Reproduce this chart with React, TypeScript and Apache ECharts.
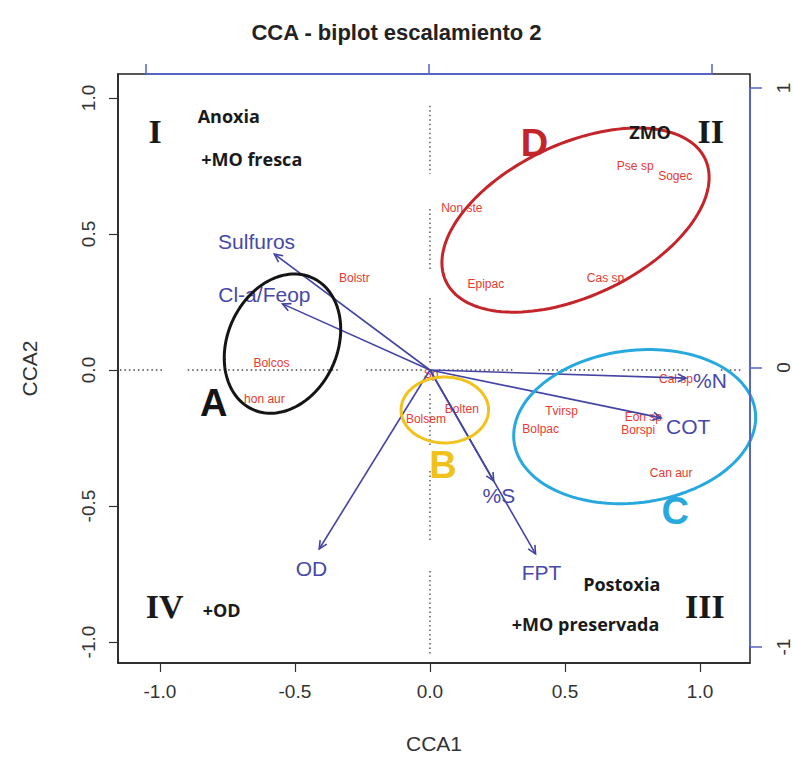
import React, { useEffect, useRef } from "react";
import * as echarts from "echarts";

// ---- axis ticks ----
const xTicks = [-1, -0.5, 0, 0.5, 1];
const yTicks = [-1, -0.5, 0, 0.5, 1];
const topTicks = [-1, 0, 1];
const rightTicks = [-1, 0, 1];

// ---- environmental vectors (biplot arrows) ----
const envNames = ["Sulfuros", "Cl-a/Feop", "%N", "COT", "%S", "FPT", "OD"];
const envTipX = [-0.576, -0.546, 0.948, 0.856, 0.236, 0.391, -0.41];
const envTipY = [0.426, 0.243, -0.03, -0.176, -0.408, -0.676, -0.658];
const envLabelX = [-0.642, -0.613, 1.037, 0.956, 0.255, 0.413, -0.439];
const envLabelY = [0.471, 0.276, -0.04, -0.206, -0.46, -0.746, -0.728];

// ---- species scores ----
const speciesNames = [
  "Bolstr", "Bolcos", "hon aur", "Non ste", "Pse sp", "Sogec", "Epipac", "Cas sp",
  "Bolten", "Bolsem", "Tvirsp", "Bolpac", "Eon sp", "Borspi", "Can aur", "Cal sp", "Sp",
];
const speciesX = [-0.28, -0.587, -0.613, 0.118, 0.76, 0.908, 0.207, 0.65,
  0.118, -0.015, 0.487, 0.41, 0.79, 0.771, 0.893, 0.911, 0.004];
const speciesY = [0.338, 0.026, -0.107, 0.596, 0.75, 0.713, 0.316, 0.338,
  -0.143, -0.18, -0.151, -0.217, -0.173, -0.221, -0.379, -0.033, -0.015];

// ---- groups (ellipses) ----
const groupNames = ["A", "B", "C", "D"];
const groupColors = ["#151515", "#f1c21b", "#27a9df", "#c4252b"];
const groupCx = [-0.546, 0.055, 0.758, 0.539];
const groupCy = [0.097, -0.147, -0.208, 0.551];
const groupA = [0.266, 0.162, 0.45, 0.53];
const groupB = [0.203, 0.121, 0.28, 0.28];
const groupAngle = [65, 0, 7, 25];
const groupLabelX = [-0.801, 0.048, 0.908, 0.387];
const groupLabelY = [-0.121, -0.349, -0.518, 0.835];

// ---- quadrant annotations ----
const romanNames = ["I", "II", "III", "IV"];
const romanX = [-1.018, 1.04, 1.018, -0.982];
const romanY = [0.875, 0.875, -0.871, -0.868];
const noteNames = ["Anoxia", "+MO fresca", "ZMO", "Postoxia", "+MO preservada", "+OD"];
const noteX = [-0.745, -0.66, 0.815, 0.71, 0.576, -0.771];
const noteY = [0.934, 0.776, 0.875, -0.785, -0.934, -0.882];

// ---- dotted origin guide segments ----
const hSegX1 = [-1.148, -0.897, -0.236, 0.033, 0.402, 0.716, 1.077];
const hSegX2 = [-0.989, -0.336, -0.03, 0.31, 0.649, 0.967, 1.159];
const vSegY1 = [0.971, 0.592, 0.265, -0.088, -0.371, -0.739];
const vSegY2 = [0.72, 0.364, 0.022, -0.287, -0.629, -1.044];

const BLUE = "#4444a4";
const AXIS_BLUE = "#5566c4";
const SANS = "Liberation Sans, Arial, sans-serif";

export default function App() {
  const ref = useRef<HTMLDivElement>(null);
  useEffect(() => {
    if (!ref.current) return;
    const chart = echarts.init(ref.current, null, { renderer: "svg" });

    const guideData = [
      ...hSegX1.map((_, i) => ["h", i]),
      ...vSegY1.map((_, i) => ["v", i]),
    ];

    const textItem = (x: number, y: number, text: string, style: any) => ({
      type: "text",
      x,
      y,
      style: { text, align: "center", verticalAlign: "middle", ...style },
    });

    const option: any = {
      animation: false,
      backgroundColor: "#ffffff",
      title: {
        text: "CCA - biplot escalamiento 2",
        left: "center",
        top: 16,
        textStyle: { fontSize: 22, fontWeight: "bold", color: "#222", fontFamily: SANS },
      },
      grid: {
        left: 118,
        right: 41,
        top: 74,
        bottom: 109,
        show: true,
        borderColor: "#222",
        borderWidth: 1.5,
        backgroundColor: "transparent",
      },
      xAxis: [
        {
          type: "value",
          position: "bottom",
          min: -1.155,
          max: 1.185,
          name: "CCA1",
          nameLocation: "middle",
          nameGap: 70,
          nameTextStyle: { fontSize: 21, color: "#333", fontFamily: SANS },
          axisLine: { show: true, onZero: false, lineStyle: { color: "#222", width: 1.5 } },
          axisTick: { show: true, customValues: xTicks, length: 9, lineStyle: { color: "#333", width: 1.2 } },
          axisLabel: {
            customValues: xTicks,
            formatter: (v: number) => v.toFixed(1),
            fontSize: 19,
            color: "#333",
            fontFamily: SANS,
            margin: 19,
          },
          splitLine: { show: false },
        },
        {
          type: "value",
          position: "top",
          min: -1.099,
          max: 1.134,
          axisLine: { show: false, onZero: false },
          axisTick: { show: true, customValues: topTicks, length: 10, lineStyle: { color: AXIS_BLUE, width: 1.5 } },
          axisLabel: { show: false },
          splitLine: { show: false },
        },
      ],
      yAxis: [
        {
          type: "value",
          position: "left",
          min: -1.077,
          max: 1.088,
          name: "CCA2",
          nameLocation: "middle",
          nameGap: 78,
          nameRotate: 90,
          nameTextStyle: { fontSize: 21, color: "#333", fontFamily: SANS },
          axisLine: { show: true, onZero: false, lineStyle: { color: "#222", width: 1.5 } },
          axisTick: { show: true, customValues: yTicks, length: 9, lineStyle: { color: "#333", width: 1.2 } },
          axisLabel: {
            customValues: yTicks,
            formatter: (v: number) => v.toFixed(1),
            rotate: 90,
            fontSize: 19,
            color: "#333",
            fontFamily: SANS,
            margin: 20,
          },
          splitLine: { show: false },
        },
        {
          type: "value",
          position: "right",
          min: -1.057,
          max: 1.05,
          axisLine: { show: false, onZero: false },
          axisTick: { show: true, customValues: rightTicks, length: 12, lineStyle: { color: AXIS_BLUE, width: 1.5 } },
          axisLabel: {
            customValues: rightTicks,
            formatter: (v: number) => String(v),
            rotate: 90,
            fontSize: 19,
            color: "#333",
            fontFamily: SANS,
            margin: 24,
          },
          splitLine: { show: false },
        },
      ],
      series: [
        // dotted guides through origin
        {
          type: "custom",
          xAxisIndex: 0,
          yAxisIndex: 0,
          z: 2,
          data: guideData,
          renderItem: (params: any, api: any) => {
            const d = guideData[params.dataIndex];
            const i = d[1] as number;
            let p1, p2;
            if (d[0] === "h") {
              p1 = api.coord([hSegX1[i], 0]);
              p2 = api.coord([hSegX2[i], 0]);
            } else {
              p1 = api.coord([0, vSegY1[i]]);
              p2 = api.coord([0, vSegY2[i]]);
            }
            return {
              type: "line",
              shape: { x1: p1[0], y1: p1[1], x2: p2[0], y2: p2[1] },
              style: { stroke: "#444", lineWidth: 1.3, lineDash: [1.5, 3] },
            };
          },
        },
        // species labels
        {
          type: "custom",
          xAxisIndex: 0,
          yAxisIndex: 0,
          z: 3,
          data: speciesNames.map((_, i) => [speciesX[i], speciesY[i]]),
          renderItem: (params: any, api: any) => {
            const i = params.dataIndex;
            const p = api.coord([speciesX[i], speciesY[i]]);
            return textItem(p[0], p[1], speciesNames[i], {
              fill: "#e8392f",
              fontSize: 12,
              fontFamily: SANS,
            });
          },
        },
        // arrows
        {
          type: "custom",
          xAxisIndex: 0,
          yAxisIndex: 0,
          z: 4,
          data: envNames.map((_, i) => [envTipX[i], envTipY[i]]),
          renderItem: (params: any, api: any) => {
            const i = params.dataIndex;
            const o = api.coord([0, 0]);
            const t = api.coord([envTipX[i], envTipY[i]]);
            const ang = Math.atan2(t[1] - o[1], t[0] - o[0]);
            const L = 9;
            const h1 = [t[0] - L * Math.cos(ang - 0.45), t[1] - L * Math.sin(ang - 0.45)];
            const h2 = [t[0] - L * Math.cos(ang + 0.45), t[1] - L * Math.sin(ang + 0.45)];
            return {
              type: "group",
              children: [
                {
                  type: "line",
                  shape: { x1: o[0], y1: o[1], x2: t[0], y2: t[1] },
                  style: { stroke: BLUE, lineWidth: 1.6 },
                },
                {
                  type: "polyline",
                  shape: { points: [h1, t, h2] },
                  style: { stroke: BLUE, lineWidth: 1.6, fill: "none" },
                },
              ],
            };
          },
        },
        // arrow labels
        {
          type: "custom",
          xAxisIndex: 0,
          yAxisIndex: 0,
          z: 5,
          data: envNames.map((_, i) => [envLabelX[i], envLabelY[i]]),
          renderItem: (params: any, api: any) => {
            const i = params.dataIndex;
            const p = api.coord([envLabelX[i], envLabelY[i]]);
            return textItem(p[0], p[1], envNames[i], {
              fill: "#4848a8",
              fontSize: 21,
              fontFamily: SANS,
            });
          },
        },
        // ellipses + group letters
        {
          type: "custom",
          xAxisIndex: 0,
          yAxisIndex: 0,
          z: 6,
          data: groupNames.map((_, i) => [groupCx[i], groupCy[i]]),
          renderItem: (params: any, api: any) => {
            const i = params.dataIndex;
            const th = (groupAngle[i] * Math.PI) / 180;
            const pts: number[][] = [];
            for (let k = 0; k <= 144; k++) {
              const t = (k / 144) * Math.PI * 2;
              const ex = groupA[i] * Math.cos(t);
              const ey = groupB[i] * Math.sin(t);
              const x = groupCx[i] + ex * Math.cos(th) - ey * Math.sin(th);
              const y = groupCy[i] + ex * Math.sin(th) + ey * Math.cos(th);
              pts.push(api.coord([x, y]));
            }
            const lp = api.coord([groupLabelX[i], groupLabelY[i]]);
            return {
              type: "group",
              children: [
                {
                  type: "polyline",
                  shape: { points: pts },
                  style: { stroke: groupColors[i], lineWidth: 3, fill: "none" },
                },
                textItem(lp[0], lp[1], groupNames[i], {
                  fill: groupColors[i],
                  fontSize: 38,
                  fontWeight: "bold",
                  fontFamily: SANS,
                }),
              ],
            };
          },
        },
        // roman numerals
        {
          type: "custom",
          xAxisIndex: 0,
          yAxisIndex: 0,
          z: 7,
          data: romanNames.map((_, i) => [romanX[i], romanY[i]]),
          renderItem: (params: any, api: any) => {
            const i = params.dataIndex;
            const p = api.coord([romanX[i], romanY[i]]);
            return textItem(p[0], p[1], romanNames[i], {
              fill: "#1a1a1a",
              fontSize: 34,
              fontWeight: "bold",
              fontFamily: "Liberation Serif, Times New Roman, serif",
            });
          },
        },
        // notes
        {
          type: "custom",
          xAxisIndex: 0,
          yAxisIndex: 0,
          z: 7,
          data: noteNames.map((_, i) => [noteX[i], noteY[i]]),
          renderItem: (params: any, api: any) => {
            const i = params.dataIndex;
            const p = api.coord([noteX[i], noteY[i]]);
            return textItem(p[0], p[1], noteNames[i], {
              fill: "#1a1a1a",
              fontSize: 18,
              fontWeight: "bold",
              fontFamily: "Open Sans, sans-serif",
            });
          },
        },
        // blue secondary axis lines
        {
          type: "custom",
          xAxisIndex: 1,
          yAxisIndex: 1,
          z: 8,
          data: [[0, 0]],
          renderItem: (params: any, api: any) => {
            const cs = params.coordSys;
            const xa = api.coord([topTicks[0], 0])[0];
            const xb = api.coord([topTicks[topTicks.length - 1], 0])[0];
            const ya = api.coord([0, rightTicks[rightTicks.length - 1]])[1];
            const yb = api.coord([0, rightTicks[0]])[1];
            const xr = cs.x + cs.width;
            return {
              type: "group",
              children: [
                { type: "line", shape: { x1: xa, y1: cs.y, x2: xb, y2: cs.y }, style: { stroke: AXIS_BLUE, lineWidth: 2 } },
                { type: "line", shape: { x1: xr, y1: ya, x2: xr, y2: yb }, style: { stroke: AXIS_BLUE, lineWidth: 2 } },
              ],
            };
          },
        },
      ],
    };
    chart.setOption(option);
    return () => chart.dispose();
  }, []);
  return (
    <div
      ref={ref}
      style={{ position: "absolute", left: 0, top: 0, width: 793, height: 772 }}
    />
  );
}
